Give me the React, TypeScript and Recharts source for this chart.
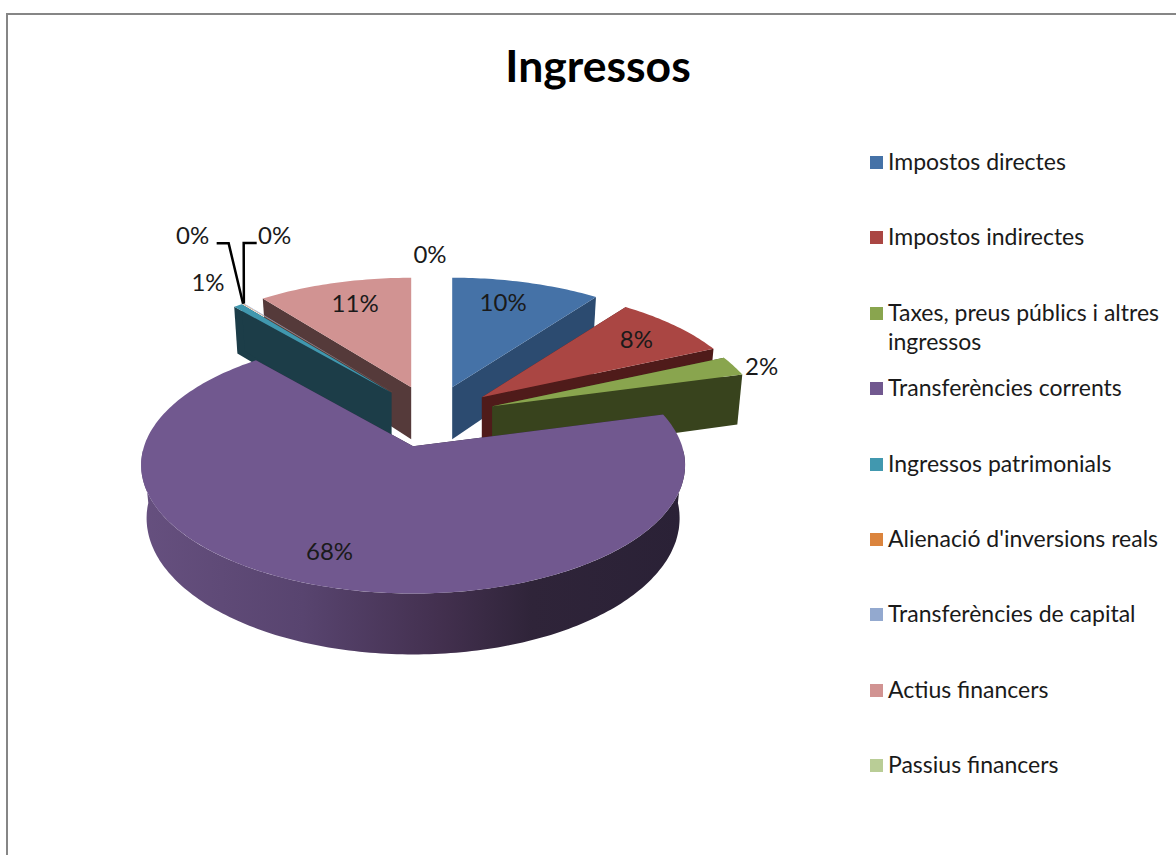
import { PieChart, Pie, Legend } from 'recharts';

const categories = [
  'Impostos directes',
  'Impostos indirectes',
  'Taxes, preus públics i altres ingressos',
  'Transferències corrents',
  'Ingressos patrimonials',
  "Alienació d'inversions reals",
  'Transferències de capital',
  'Actius financers',
  'Passius financers',
];
const values = [10.2, 8.1, 2.49, 67.96, 0.6, 0.05, 0.05, 10.55, 0];
const colors = ['#4572A7', '#AA4643', '#89A54E', '#71588F', '#4198AF', '#DB843D', '#93A9CF', '#D19392', '#B9CD96'];
const wallColors = ['#2c4b70', '#4f1b1a', '#38431d', '#2a2136', '#1c3d48', '#7a4a20', '#55637d', '#553a3a', '#6d7a58'];

const tableData = categories.map((name, i) => ({ name, value: values[i], fill: colors[i] }));

// paint order, back to front, so the exploded slices overlap like the 3D original
const paintLayers = [[7, 8], [4, 5, 6], [0, 1, 2], [3]];

const labelRho = [0.8, 0.8, 1.1, 0.75, 1.2, 1.4, 1.4, 0.8, 1.3];
const labelNudge = [[-10, 0], [-2, 0], [5, 3], [-17, 4], [-3, -9], [1, -39], [82, -39], [7, 1], [-2, 5]];
// elbows of the two leader lines, relative to their label
const leaderElbows: Record<number, number[][]> = {
  5: [[24, 9], [36, 9]],
  6: [[-18, 9], [-31, 9]],
};

const EXPLODE_X = 64;
const EXPLODE_Y = 31;
const PERSPECTIVE = 0.147;
const TILT = 0.467;
const DEPTH = 52;
const FONT = 'Lato, sans-serif';

const rad = (d: number) => (d * Math.PI) / 180;

// point of an exploded slice: clock angle `a`, radius `rho`, height `z`.
// The pie is projected first, then the slice is pushed along its middle angle on screen.
const slicePoint = (o: any, mid: number, a: number, rho: number, z: number) => {
  const X = rho * Math.sin(rad(a));
  const Y = -rho * Math.cos(rad(a));
  const s = 1 / (1 - PERSPECTIVE * Y);
  const shrink = 1 - z * 0.02;
  return [
    o.cx + EXPLODE_X * Math.sin(rad(mid)) + o.outerRadius * X * s * shrink,
    o.cy - EXPLODE_Y * Math.cos(rad(mid)) + TILT * o.outerRadius * Y * s + DEPTH * z * s,
  ];
};

const toPath = (pts: number[][]) => 'M' + pts.map((p) => p[0].toFixed(1) + ',' + p[1].toFixed(1)).join('L') + 'Z';

const indexOf = (props: any) => categories.indexOf(props.name ?? props.payload?.name);

const SliceShape = (props: any, layer: number[]) => {
  const idx = indexOf(props);
  if (!layer.includes(idx) || props.endAngle === props.startAngle) return <g />;
  const a0 = 90 - props.startAngle;
  const a1 = 90 - props.endAngle;
  const mid = (a0 + a1) / 2;
  const apexTop = slicePoint(props, mid, 0, 0, 0);
  const apexBottom = slicePoint(props, mid, 0, 0, 1);

  const arc: number[][] = [];
  const steps = Math.max(2, Math.ceil(a1 - a0));
  for (let k = 0; k <= steps; k++) {
    arc.push(slicePoint(props, mid, a0 + ((a1 - a0) * k) / steps, 1, 0));
  }

  const cutFace = (a: number) =>
    toPath([apexTop, slicePoint(props, mid, a, 1, 0), slicePoint(props, mid, a, 1, 1), apexBottom]);

  // the near-zero slivers show up only as a thin line on top
  const hasWalls = a1 - a0 > 1;

  // outer rim only where it faces the viewer
  const from = Math.max(a0, 92);
  const to = Math.min(a1, 268);
  let rim = null;
  if (to > from) {
    const upper: number[][] = [];
    const lower: number[][] = [];
    for (let a = from; a <= to; a += 1) {
      upper.push(slicePoint(props, mid, a, 1, 0));
      lower.unshift(slicePoint(props, mid, a, 1, 1));
    }
    rim = (
      <>
        <defs>
          <linearGradient id={'rim' + idx} gradientUnits="userSpaceOnUse" x1={140} x2={684} y1={0} y2={0}>
            <stop offset="0%" stopColor="#66507f" />
            <stop offset="30%" stopColor="#58446f" />
            <stop offset="55%" stopColor="#43304f" />
            <stop offset="72%" stopColor="#2f2439" />
            <stop offset="100%" stopColor="#2a2136" />
          </linearGradient>
        </defs>
        <path d={toPath([...upper, ...lower])} fill={'url(#rim' + idx + ')'} />
      </>
    );
  }

  return (
    <g>
      {hasWalls && <path d={cutFace(a0)} fill={wallColors[idx]} />}
      {hasWalls && <path d={cutFace(a1)} fill={wallColors[idx]} />}
      {rim}
      <path d={toPath([apexTop, ...arc])} fill={colors[idx]} />
    </g>
  );
};

const renderLabel = (props: any) => {
  const idx = indexOf(props);
  const mid = 90 - props.midAngle;
  const p = slicePoint(props, mid, mid, labelRho[idx], 0);
  const x = p[0] + labelNudge[idx][0];
  const y = p[1] + labelNudge[idx][1];
  const elbows = leaderElbows[idx];
  const tip = slicePoint(props, mid, mid, 1, 0);
  return (
    <g>
      {elbows && (
        <polyline
          points={[...elbows.map((e) => [x + e[0], y + e[1]]), tip].map((q) => q.join(',')).join(' ')}
          fill="none"
          stroke="#000"
          strokeWidth={2.5}
        />
      )}
      <text x={x} y={y} textAnchor="middle" dominantBaseline="central" fontFamily={FONT} fontSize={24} fill="#1a1a1a">
        {Math.round(props.percent * 100) + '%'}
      </text>
    </g>
  );
};

const renderLegend = (props: any) => {
  const items = (props.payload || []).filter((e: any) => e.type !== 'none');
  return (
    <div style={{ position: 'relative', width: 1176, height: 855 }}>
      {items.map((e: any, i: number) => (
        <div
          key={e.value}
          style={{
            position: 'absolute',
            left: 870,
            top: 147 + i * 75.4,
            width: 300,
            fontFamily: FONT,
            fontSize: 23,
            lineHeight: '29px',
            color: '#1a1a1a',
            paddingLeft: 18,
            boxSizing: 'border-box',
          }}
        >
          <span style={{ position: 'absolute', left: 0, top: 9, width: 13, height: 13, background: e.color }} />
          {e.value}
        </div>
      ))}
    </div>
  );
};

export default function App() {
  return (
    <div style={{ position: 'absolute', left: 0, top: 0, width: 1176, height: 855, overflow: 'hidden', background: '#fff' }}>
      <div style={{ position: 'absolute', left: 6, top: 13, width: 1176, height: 855, borderLeft: '2px solid #868686', borderTop: '2px solid #868686' }} />
      <div style={{ position: 'absolute', left: 0, width: 1196, top: 38, textAlign: 'center', fontFamily: FONT, fontWeight: 700, fontSize: 44.5, lineHeight: '54px', color: '#000' }}>
        Ingressos
      </div>
      <div style={{ position: 'absolute', left: 0, top: 0 }}>
        <PieChart width={1176} height={855} margin={{ top: 0, right: 0, bottom: 0, left: 0 }}>
          {paintLayers.map((layer, i) => {
            const last = i === paintLayers.length - 1;
            return (
              <Pie
                key={i}
                data={tableData}
                dataKey="value"
                nameKey="name"
                cx={432}
                cy={416.6}
                outerRadius={269}
                startAngle={90}
                endAngle={-270}
                stroke="none"
                isAnimationActive={false}
                legendType={last ? 'square' : 'none'}
                shape={(p: any) => SliceShape(p, layer)}
                label={last ? renderLabel : false}
                labelLine={false}
              />
            );
          })}
          <Legend
            layout="vertical"
            align="right"
            verticalAlign="top"
            itemSorter={null}
            content={renderLegend}
            wrapperStyle={{ position: 'absolute', left: 0, top: 0, width: 1176, height: 855 }}
          />
        </PieChart>
      </div>
    </div>
  );
}
